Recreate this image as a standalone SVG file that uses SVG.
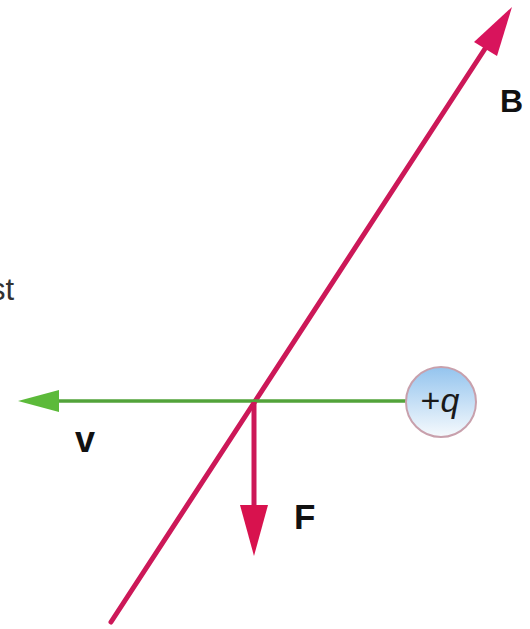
<svg xmlns="http://www.w3.org/2000/svg" width="530" height="629" viewBox="0 0 530 629">
<defs>
<style>
.lbl{font-family:"Liberation Sans",Arial,sans-serif;font-weight:bold;fill:#111}
.mag{stroke:#cc1858;stroke-width:5;fill:none;stroke-linecap:round}
.grn{stroke:#52a33a;stroke-width:3.5;fill:none}
</style>
<linearGradient id="qg" x1="0" y1="0" x2="0" y2="1">
<stop offset="0" stop-color="#94c4ee"/>
<stop offset="1" stop-color="#f6fafd"/>
</linearGradient>
</defs>
<rect width="530" height="629" fill="#ffffff"/>
<text x="14" y="300" text-anchor="end" style="font-family:'Liberation Sans',Arial,sans-serif;font-size:31px;fill:#333">st</text>
<g id="connectors">
<g id="B-vector">
<line class="mag" x1="111" y1="622" x2="492" y2="38"/>
<polygon points="512,7 474,42 497,56" fill="#d8145c"/>
</g>
<g id="v-vector">
<line class="grn" x1="55" y1="401" x2="406" y2="401"/>
<polygon points="18,401 59,390 59,412" fill="#5cba3a"/>
</g>
<g id="F-vector">
<line class="mag" x1="254" y1="402" x2="254" y2="510" style="stroke-linecap:butt"/>
<polygon points="240,505 268,505 254,556" fill="#d8124e"/>
</g>
</g>
<g id="charge">
<circle cx="441" cy="402" r="35" fill="url(#qg)" stroke="#c8a0ac" stroke-width="2"/>
<text x="440" y="412" text-anchor="middle" style="font-family:'Liberation Sans',Arial,sans-serif;font-size:34px;fill:#1a1a1a">+<tspan font-style="italic">q</tspan></text>
</g>
<text class="lbl" x="500" y="112" style="font-size:32px">B</text>
<text class="lbl" x="75" y="452" style="font-size:36px">v</text>
<text class="lbl" x="294" y="529" style="font-size:35px">F</text>
</svg>
